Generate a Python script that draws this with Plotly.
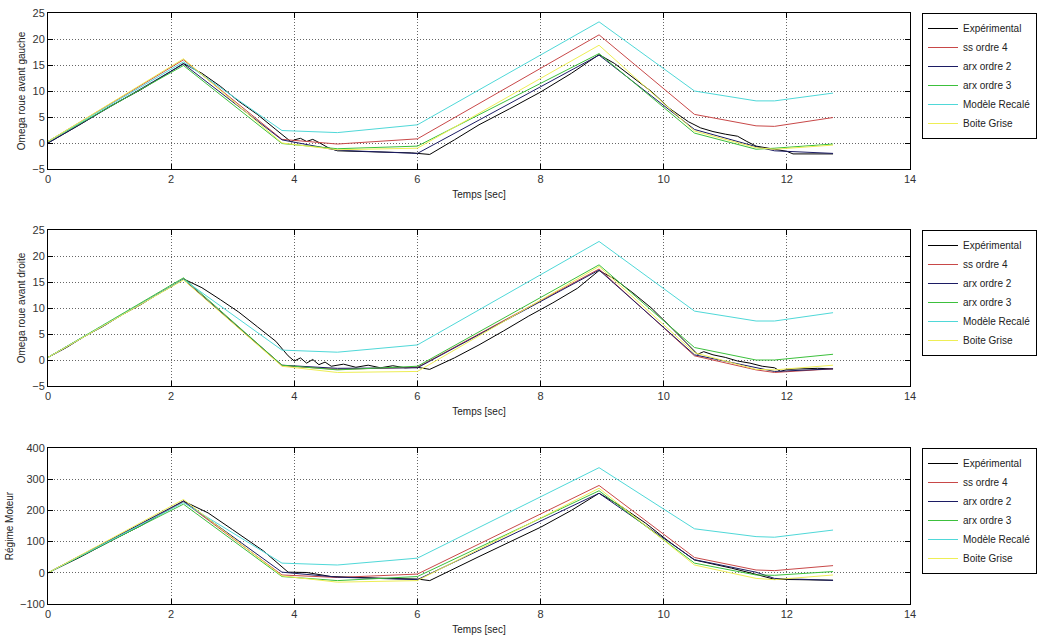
import plotly.graph_objects as go

# ---------------- data ----------------
names = ["Expérimental", "ss ordre 4", "arx ordre 2", "arx ordre 3", "Modèle Recalé", "Boite Grise"]
colors = ["#000000", "#c84848", "#1c1c64", "#3cc03c", "#4fd8d8", "#eeee55"]

# model breakpoints (time, s)
t_mod = [0, 2.2, 3.8, 4.7, 6.0, 8.95, 10.5, 11.5, 11.8, 12.75]

# --- Omega roue avant gauche ---
t_exp1 = [0, 0.5, 1.0, 1.5, 2.0, 2.2, 2.5, 2.8, 3.1, 3.4, 3.7, 3.85, 3.95, 4.0, 4.1, 4.2, 4.3, 4.4,
          4.55, 4.7, 5.0, 5.3, 5.6, 5.9, 6.0, 6.2, 6.6, 7.0, 7.5, 8.0, 8.5, 8.95, 9.2, 9.5, 9.8,
          10.1, 10.4, 10.6, 10.8, 11.0, 11.2, 11.35, 11.5, 11.8, 12.0, 12.1, 12.4, 12.75]
exp1 = [0, 3.4, 7.0, 10.2, 13.8, 15.3, 13.4, 10.9, 8.0, 5.5, 2.6, 1.2, 0.2, 0.6, 0.9, 0.3, 0.7, 0.1,
        -0.9, -1.5, -1.6, -1.7, -1.7, -1.9, -2.0, -2.2, 0.6, 3.5, 6.6, 9.8, 13.4, 17.0, 15.3, 12.6, 9.9,
        6.6, 4.1, 2.9, 2.2, 1.7, 1.3, 0.3, -0.6, -1.2, -1.6, -2.1, -2.1, -2.1]
ss4_1 = [0.3, 16.0, 0.7, -0.2, 0.8, 20.8, 5.5, 3.3, 3.2, 4.9]
arx2_1 = [0.0, 15.2, 0.6, -1.4, -2.0, 16.9, 2.6, -0.7, -1.5, -2.0]
arx3_1 = [0.3, 14.9, -0.1, -1.1, -0.6, 17.2, 1.9, -1.2, -1.0, -0.2]
rec_1 = [0.3, 15.6, 2.4, 2.0, 3.5, 23.3, 10.0, 8.1, 8.1, 9.6]
bg_1 = [0.3, 16.2, 0.0, -1.3, -1.0, 18.8, 2.3, -0.9, -1.2, -0.4]

# --- Omega roue avant droite ---
t_exp2 = [0, 0.3, 0.6, 0.9, 1.2, 1.5, 1.8, 2.0, 2.2, 2.5, 2.8, 3.1, 3.4, 3.7, 3.9, 4.0, 4.1, 4.2, 4.3,
          4.4, 4.5, 4.6, 4.8, 5.0, 5.2, 5.4, 5.6, 5.8, 6.0, 6.2, 6.6, 7.0, 7.4, 7.8, 8.2, 8.6, 8.95,
          9.2, 9.5, 9.8, 10.1, 10.4, 10.55, 10.65, 10.8, 11.0, 11.2, 11.4, 11.6, 11.8, 11.9, 12.0,
          12.2, 12.5, 12.75]
exp2 = [0.5, 2.4, 4.6, 6.5, 8.7, 10.6, 12.8, 14.1, 15.6, 13.9, 11.6, 9.2, 6.4, 3.6, 0.8, -0.2, 0.4,
        -0.6, 0.1, -0.9, -0.4, -1.2, -0.8, -1.4, -1.0, -1.5, -1.1, -1.5, -1.4, -1.8, 0.4, 2.9, 5.6,
        8.4, 11.0, 13.8, 17.2, 15.6, 12.9, 10.0, 6.5, 3.0, 1.1, 1.6, 1.0, 0.5, -0.2, -0.6, -1.2, -1.5,
        -2.2, -1.8, -1.7, -1.6, -1.7]
ss4_2 = [0.5, 15.5, -1.1, -1.8, -1.4, 17.5, 0.8, -1.9, -2.4, -1.7]
arx2_2 = [0.5, 15.5, -1.0, -1.6, -1.5, 17.3, 1.0, -1.5, -2.2, -1.7]
arx3_2 = [0.5, 15.8, -1.0, -1.9, -1.2, 18.3, 2.4, 0.0, 0.0, 1.1]
rec_2 = [0.5, 15.5, 1.9, 1.5, 2.9, 22.8, 9.4, 7.5, 7.5, 9.1]
bg_2 = [0.5, 15.4, -1.2, -2.4, -2.2, 18.0, 1.4, -1.8, -1.9, -1.0]

# --- Régime Moteur ---
t_exp3 = [0, 0.5, 1.0, 1.5, 2.2, 2.6, 3.0, 3.5, 3.9, 4.2, 4.6, 5.0, 5.5, 6.0, 6.2, 7.0, 8.0, 8.5,
          8.95, 9.3, 9.7, 10.1, 10.5, 10.8, 11.1, 11.5, 11.8, 12.2, 12.75]
exp3 = [0, 48, 100, 150, 230, 192, 138, 70, 2, 1, -12, -15, -18, -20, -25, 52, 146, 200,
        255, 214, 160, 98, 41, 28, 15, -5, -21, -22, -24]
ss4_3 = [0, 228, -7, -15, -4, 280, 49, 9, 7, 23]
arx2_3 = [0, 230, 2, -14, -22, 255, 42, 2, -18, -24]
arx3_3 = [0, 220, -12, -25, -12, 263, 31, -7, -8, 4]
rec_3 = [0, 225, 31, 25, 47, 337, 141, 116, 114, 137]
bg_3 = [0, 235, -10, -30, -25, 271, 25, -18, -22, -7]

y_titles = ["Omega roue avant gauche", "Omega roue avant droite", "Régime Moteur"]
y_ranges = [[-5, 25], [-5, 25], [-100, 400]]
y_dticks = [5, 5, 100]
x_title = "Temps [sec]"

panels = [
    (t_exp1, exp1, [ss4_1, arx2_1, arx3_1, rec_1, bg_1]),
    (t_exp2, exp2, [ss4_2, arx2_2, arx3_2, rec_2, bg_2]),
    (t_exp3, exp3, [ss4_3, arx2_3, arx3_3, rec_3, bg_3]),
]

# ---------------- layout geometry (page body margin removed below) ----------------
W, H = 1042, 635
x_dom = [48 / W, 910 / W]
tops = [13, 230, 448]
bots = [169, 386, 604]

FONT = "Liberation Sans, Arial, sans-serif"
fig = go.Figure()

for i, (te, ye, models) in enumerate(panels):
    k = "" if i == 0 else str(i + 1)
    xa, ya, lg = "x" + k, "y" + k, "legend" + k
    fig.add_trace(go.Scatter(x=te, y=ye, mode="lines", name=names[0],
                             line=dict(color=colors[0], width=1),
                             xaxis=xa, yaxis=ya, legend=lg))
    for j, m in enumerate(models):
        fig.add_trace(go.Scatter(x=t_mod, y=m, mode="lines", name=names[j + 1],
                                 line=dict(color=colors[j + 1], width=1),
                                 xaxis=xa, yaxis=ya, legend=lg))

    common = dict(showline=True, linecolor="black", linewidth=1, mirror="ticks",
                  ticks="inside", ticklen=5, tickcolor="black",
                  showgrid=True, gridcolor="#666", griddash="1px,2px", gridwidth=1,
                  zeroline=False, tickfont=dict(family=FONT, size=11, color="#333"))
    fig.layout["xaxis" + k] = dict(
        domain=x_dom, anchor=ya, range=[0, 14], dtick=2, tick0=0,
        title=dict(text=x_title, standoff=6, font=dict(family=FONT, size=10, color="#222")),
        **common)
    fig.layout["yaxis" + k] = dict(
        domain=[1 - bots[i] / H, 1 - tops[i] / H], anchor=xa,
        range=y_ranges[i], dtick=y_dticks[i],
        title=dict(text=y_titles[i], standoff=4, font=dict(family=FONT, size=10, color="#222")),
        **common)
    fig.layout[lg] = dict(x=922 / W, y=1 - tops[i] / H, xanchor="left", yanchor="top",
                          bgcolor="white", bordercolor="black", borderwidth=1,
                          font=dict(family=FONT, size=10, color="#222"),
                          tracegroupgap=0)

fig.update_layout(width=W, height=H, paper_bgcolor="white", plot_bgcolor="white",
                  margin=dict(l=0, r=0, t=0, b=0, autoexpand=False),
                  showlegend=True, font=dict(family=FONT, size=11))

fig.write_html("out.html", config={"displayModeBar": False},
               post_script="document.body.style.margin='0px';document.body.style.overflow='hidden';")
